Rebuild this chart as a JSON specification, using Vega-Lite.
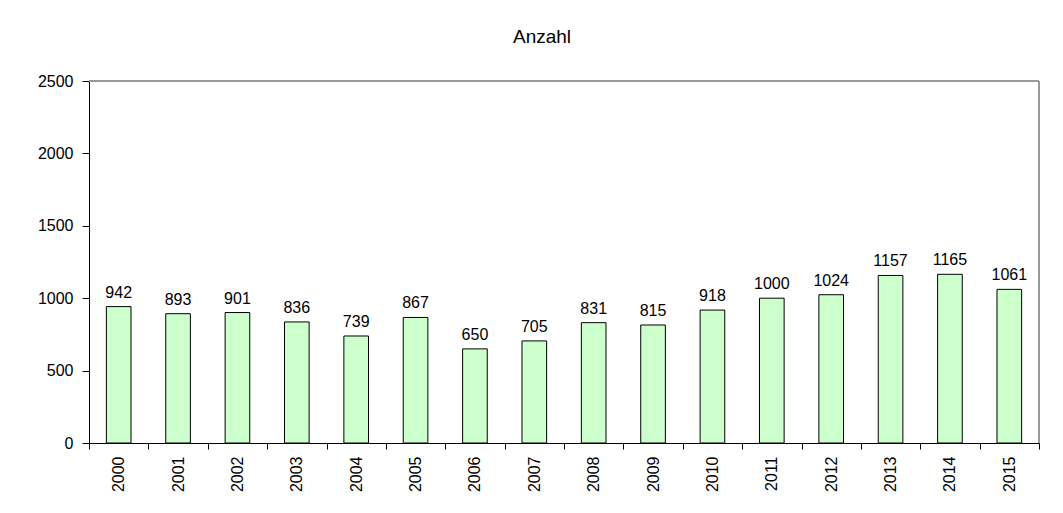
{
  "$schema": "https://vega.github.io/schema/vega-lite/v6.json",
  "width": 950,
  "height": 362,
  "autosize": {"type": "none"},
  "padding": {"left": 89, "top": 81, "right": 24, "bottom": 70},
  "background": "white",
  "title": {
    "text": "Anzahl",
    "font": "Liberation Sans",
    "fontSize": 19,
    "fontWeight": "normal",
    "color": "black",
    "anchor": "middle",
    "dx": -22,
    "offset": 26
  },
  "data": {
    "values": [
      {"Jahr": "2000", "Anzahl": 942},
      {"Jahr": "2001", "Anzahl": 893},
      {"Jahr": "2002", "Anzahl": 901},
      {"Jahr": "2003", "Anzahl": 836},
      {"Jahr": "2004", "Anzahl": 739},
      {"Jahr": "2005", "Anzahl": 867},
      {"Jahr": "2006", "Anzahl": 650},
      {"Jahr": "2007", "Anzahl": 705},
      {"Jahr": "2008", "Anzahl": 831},
      {"Jahr": "2009", "Anzahl": 815},
      {"Jahr": "2010", "Anzahl": 918},
      {"Jahr": "2011", "Anzahl": 1000},
      {"Jahr": "2012", "Anzahl": 1024},
      {"Jahr": "2013", "Anzahl": 1157},
      {"Jahr": "2014", "Anzahl": 1165},
      {"Jahr": "2015", "Anzahl": 1061}
    ]
  },
  "layer": [
    {
      "data": {"values": [{"edge": 1, "lo": 0, "hi": 2500}]},
      "mark": {"type": "rule", "stroke": "#999999", "strokeWidth": 2},
      "encoding": {
        "x": {"field": "edge", "type": "quantitative", "scale": {"domain": [0, 1]}, "axis": null},
        "y": {"field": "lo", "type": "quantitative", "scale": {"domain": [0, 2500], "nice": false}, "axis": null},
        "y2": {"field": "hi"}
      }
    },
    {
      "data": {"values": [{"top": 2500, "l": 0, "r": 1}]},
      "mark": {"type": "rule", "stroke": "#999999", "strokeWidth": 2},
      "encoding": {
        "x": {"field": "l", "type": "quantitative", "scale": {"domain": [0, 1]}, "axis": null},
        "x2": {"field": "r"},
        "y": {"field": "top", "type": "quantitative", "scale": {"domain": [0, 2500], "nice": false}, "axis": null}
      }
    },
    {
      "encoding": {
        "x": {
          "field": "Jahr",
          "type": "ordinal",
          "scale": {"paddingInner": 0, "paddingOuter": 0},
          "axis": {
            "title": null,
            "labelAngle": -90,
            "labelAlign": "right",
            "labelBaseline": "middle",
            "labelPadding": 7,
            "tickBand": "extent",
            "tickSize": 6,
            "tickColor": "black",
            "domainColor": "black",
            "labelFont": "Liberation Sans",
            "labelFontSize": 16,
            "labelColor": "black"
          }
        },
        "y": {
          "field": "Anzahl",
          "type": "quantitative",
          "scale": {"domain": [0, 2500], "nice": false},
          "axis": {
            "title": null,
            "values": [0, 500, 1000, 1500, 2000, 2500],
            "format": "d",
            "grid": false,
            "tickSize": 7,
            "tickColor": "black",
            "domainColor": "black",
            "labelPadding": 9,
            "labelFont": "Liberation Sans",
            "labelFontSize": 16,
            "labelColor": "black"
          }
        }
      },
      "layer": [
        {
          "mark": {"type": "bar", "width": {"band": 0.415}, "fill": "#CCFFCC", "stroke": "black", "strokeWidth": 1}
        },
        {
          "mark": {"type": "text", "baseline": "alphabetic", "dy": -9, "font": "Liberation Sans", "fontSize": 16, "color": "black"},
          "encoding": {
            "text": {"field": "Anzahl", "type": "quantitative", "format": "d"}
          }
        }
      ]
    }
  ],
  "resolve": {
    "scale": {"x": "independent", "y": "independent"},
    "axis": {"x": "independent", "y": "independent"}
  },
  "config": {
    "view": {"stroke": null},
    "axis": {"domainWidth": 1, "tickWidth": 1}
  }
}
